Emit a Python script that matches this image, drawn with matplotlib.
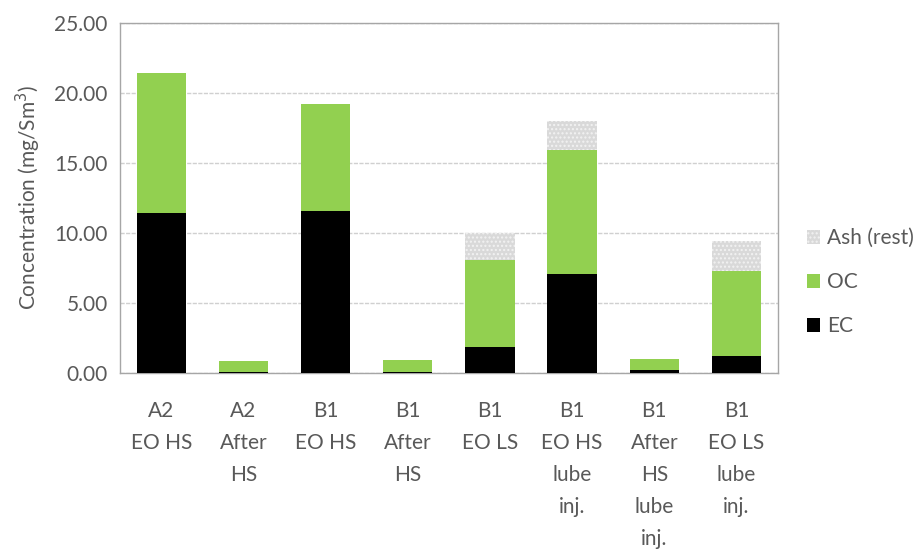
import matplotlib.pyplot as plt
import numpy as np

categories = ["A2\nEO HS", "A2\nAfter\nHS", "B1\nEO HS", "B1\nAfter\nHS", "B1\nEO LS",
              "B1\nEO HS\nlube\ninj.", "B1\nAfter\nHS\nlube\ninj.", "B1\nEO LS\nlube\ninj."]
ec = [11.43, 0.02, 11.57, 0.02, 1.86, 7.07, 0.20, 1.21]
oc = [10.00, 0.84, 7.64, 0.91, 6.21, 8.86, 0.80, 6.08]
ash = [0.00, 0.00, 0.00, 0.00, 1.93, 2.07, 0.00, 2.14]

plt.rcParams["font.family"] = ["Lato", "DejaVu Sans"]
plt.rcParams["hatch.linewidth"] = 1.0

fig = plt.figure(figsize=(9.18, 5.49), dpi=100)
ax = fig.add_axes([0.131, 0.321, 0.716, 0.638])

x = np.arange(len(categories))
w = 0.6
ec_arr = np.array(ec)
oc_arr = np.array(oc)
ax.bar(x, ec, w, color="black", label="EC", zorder=3)
ax.bar(x, oc, w, bottom=ec_arr, color="#92D050", label="OC", zorder=3)
ax.bar(x, ash, w, bottom=ec_arr + oc_arr, color="#D9D9D9", edgecolor="#F2F2F2",
       linewidth=0, hatch="....", label="Ash (rest)", zorder=3)

ax.set_xlim(-0.5, len(categories) - 0.5)
ax.set_ylim(0, 25)
ax.set_yticks(np.arange(0, 25.1, 5))
ax.set_yticklabels([f"{v:.2f}" for v in np.arange(0, 25.1, 5)])
ax.set_xticks(x)
ax.set_xticklabels(categories, linespacing=1.75, va="top")
ax.tick_params(axis="both", length=0, labelsize=15, colors="#595959", pad=9)
ax.tick_params(axis="x", pad=20)
ax.yaxis.grid(True, color="#D0D0D0", linestyle=(0, (3, 1)), linewidth=1, zorder=0)
for s in ax.spines.values():
    s.set_color("#A6A6A6")
    s.set_linewidth(1)

ax.set_ylabel("Concentration (mg/Sm$^3$)", fontsize=15, color="#595959", labelpad=8)

handles, labels = ax.get_legend_handles_labels()
ax.legend(handles[::-1], labels[::-1], loc="center left", bbox_to_anchor=(0.879, 0.486),
          bbox_transform=fig.transFigure, borderaxespad=0, borderpad=0,
          frameon=False, fontsize=15, labelcolor="#595959", handlelength=0.63,
          handleheight=0.63, handletextpad=0.35, labelspacing=1.15)

fig.savefig("out.png", dpi=100)
